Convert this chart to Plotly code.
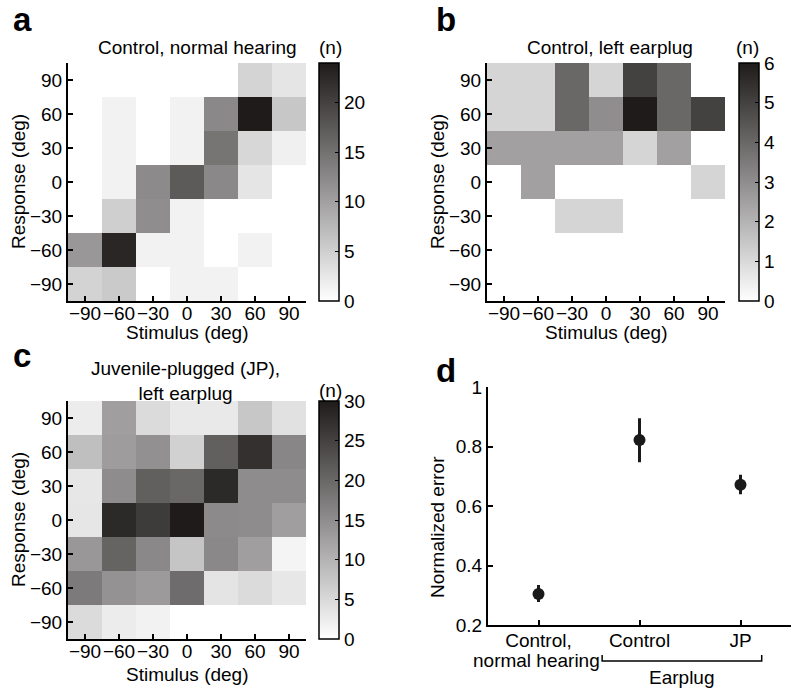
import plotly.graph_objects as go

W, H = 800, 693
FONT = "Liberation Sans, Arial, Helvetica, sans-serif"
FS = 19

# ---- data ----
stimulus = [-90, -60, -30, 0, 30, 60, 90]
response = [90, 60, 30, 0, -30, -60, -90]   # rows listed top to bottom
tick_text = ["\u221290", "\u221260", "\u221230", "0", "30", "60", "90"]

counts_a = [  # Control, normal hearing
    [0, 0, 0, 0, 0, 4.5, 2.7],
    [0, 1.4, 0, 1.4, 12.5, 24, 5.9],
    [0, 1.4, 0, 1.4, 14.6, 4.2, 1.6],
    [0, 1.4, 12.3, 17.4, 12.5, 2.7, 0],
    [0, 5.1, 12.0, 1.4, 0, 0, 0],
    [10.9, 22.8, 1.4, 1.4, 0, 1.4, 0],
    [4.6, 5.6, 0, 1.4, 1.4, 0, 0],
]
counts_b = [  # Control, left earplug
    [1.1, 1.1, 4, 1.1, 5, 4, 0],
    [1.1, 1.1, 4, 3, 6, 4, 5],
    [2.5, 2.5, 2.5, 2.5, 1.1, 2.5, 0],
    [0, 2.5, 0, 0, 0, 0, 1.1],
    [0, 0, 1.1, 1.1, 0, 0, 0],
    [0, 0, 0, 0, 0, 0, 0],
    [0, 0, 0, 0, 0, 0, 0],
]
counts_c = [  # Juvenile-plugged, left earplug
    [2.5, 12.7, 4.7, 2.9, 2.9, 7.4, 4.0],
    [8.4, 13.0, 14.6, 6.0, 21.0, 27.2, 15.9],
    [3.1, 15.1, 21.0, 20.0, 28.2, 15.1, 15.1],
    [3.3, 28.2, 25.8, 30.0, 15.4, 15.1, 12.7],
    [13.7, 20.5, 15.7, 7.6, 15.7, 12.7, 1.5],
    [17.5, 14.3, 13.3, 19.4, 3.6, 4.7, 3.1],
    [4.7, 2.5, 1.7, 0, 0, 0, 0],
]
zmax_a, zmax_b, zmax_c = 24, 6, 30
cbar_ticks_a = [0, 5, 10, 15, 20]
cbar_ticks_b = [0, 1, 2, 3, 4, 5, 6]
cbar_ticks_c = [0, 5, 10, 15, 20, 25, 30]

groups = [1, 2, 3]
group_labels = ["Control,", "Control", "JP"]
group_sublabel = "normal hearing"
norm_error = [0.305, 0.822, 0.672]
err_plus = [0.030, 0.073, 0.033]
err_minus = [0.027, 0.075, 0.032]
d_yticks = [0.2, 0.4, 0.6, 0.8, 1]
d_yticktext = ["0.2", "0.4", "0.6", "0.8", "1"]

# ---- layout helpers ----
def px_x(p):
    return p / W

def px_y(p):
    return 1 - p / H

GRAY = [[0, "#ffffff"], [1, "#1f1b1b"]]

fig = go.Figure()

def add_heat(z, zmax, ticks, xa, ya, cb_left, cb_top, cb_bottom):
    fig.add_trace(go.Heatmap(
        x=stimulus, y=response, z=z, zmin=0, zmax=zmax,
        colorscale=GRAY, xaxis=xa, yaxis=ya,
        colorbar=dict(
            x=px_x(cb_left), xanchor="left", xpad=0, ypad=0,
            y=px_y((cb_top + cb_bottom) / 2), yanchor="middle",
            len=cb_bottom - cb_top, lenmode="pixels",
            thickness=20, thicknessmode="pixels",
            outlinecolor="black", outlinewidth=1.5,
            tickvals=ticks, ticks="inside", ticklen=4, tickwidth=1,
            tickcolor="black",
            tickfont=dict(family=FONT, size=FS, color="black"),
        ),
        hoverinfo="skip",
    ))

add_heat(counts_a, zmax_a, cbar_ticks_a, "x", "y", 319, 63, 301)
add_heat(counts_b, zmax_b, cbar_ticks_b, "x2", "y2", 739, 63, 301)
add_heat(counts_c, zmax_c, cbar_ticks_c, "x3", "y3", 319, 401, 639)

fig.add_trace(go.Scatter(
    x=groups, y=norm_error, mode="markers",
    marker=dict(color="#1a1a1a", size=12),
    error_y=dict(type="data", array=err_plus, arrayminus=err_minus,
                 color="#1a1a1a", thickness=3, width=0),
    xaxis="x4", yaxis="y4", showlegend=False, hoverinfo="skip",
))

axis_common = dict(
    showline=True, linecolor="black", linewidth=2, mirror=False,
    showgrid=False, zeroline=False, ticks="inside", ticklen=5,
    tickwidth=1.5, tickcolor="black", tickangle=0, automargin=False,
    tickfont=dict(family=FONT, size=FS, color="black"),
)

def heat_axes(x0, x1, ytop, ybot):
    xa = dict(axis_common, domain=[px_x(x0), px_x(x1)], range=[-105, 105],
              tickvals=stimulus, ticktext=tick_text, ticklabelstandoff=-6)
    ya = dict(axis_common, domain=[px_y(ybot), px_y(ytop)], range=[-105, 105],
              tickvals=stimulus, ticktext=tick_text)
    return xa, ya

xa1, ya1 = heat_axes(68, 306, 63, 301)
xa2, ya2 = heat_axes(487, 725, 63, 301)
xa3, ya3 = heat_axes(68, 306, 401, 639)
ya1["anchor"] = "x"; xa1["anchor"] = "y"
ya2["anchor"] = "x2"; xa2["anchor"] = "y2"
ya3["anchor"] = "x3"; xa3["anchor"] = "y3"

xa4 = dict(axis_common, domain=[px_x(488), px_x(791)], range=[0.5, 3.5],
           tickvals=groups, ticktext=group_labels, anchor="y4",
           ticklabelstandoff=-3)
ya4 = dict(axis_common, domain=[px_y(625.3), px_y(387)], range=[0.2, 1.0],
           tickvals=d_yticks, ticktext=d_yticktext, anchor="x4")

fig.update_layout(
    width=W, height=H, margin=dict(l=0, r=0, t=0, b=0),
    paper_bgcolor="white", plot_bgcolor="white",
    font=dict(family=FONT, size=FS, color="black"),
    showlegend=False,
    xaxis=xa1, yaxis=ya1, xaxis2=xa2, yaxis2=ya2,
    xaxis3=xa3, yaxis3=ya3, xaxis4=xa4, yaxis4=ya4,
)

def ann(text, x, y, size=FS, bold=False, angle=0, xanchor="center",
        yanchor="middle"):
    fig.add_annotation(
        text=f"<b>{text}</b>" if bold else text,
        x=px_x(x), y=px_y(y), xref="paper", yref="paper",
        showarrow=False, textangle=angle, xanchor=xanchor, yanchor=yanchor,
        font=dict(family=FONT, size=size, color="black"),
    )

# panel letters
ann("a", 22, 20, size=33, bold=True)
ann("b", 446, 20, size=33, bold=True)
ann("c", 22, 355, size=33, bold=True)
ann("d", 446, 370, size=33, bold=True)

# titles
ann("Control, normal hearing", 197, 48)
ann("Control, left earplug", 610, 48)
ann("Juvenile-plugged (JP),<br>left earplug", 185, 381)
ann("(n)", 330, 48)
ann("(n)", 747, 48)
ann("(n)", 330, 391)

# axis titles
ann("Stimulus (deg)", 187, 332)
ann("Stimulus (deg)", 606, 332)
ann("Stimulus (deg)", 187, 674)
ann("Response (deg)", 18, 182, angle=-90)
ann("Response (deg)", 437, 182, angle=-90)
ann("Response (deg)", 18, 520, angle=-90)
ann("Normalized error", 437, 527, angle=-90)

# second line of first group label in panel d
fig.add_annotation(text=group_sublabel, x=groups[0] - 0.02, y=px_y(660),
                   xref="x4", yref="paper", yanchor="middle", showarrow=False,
                   font=dict(family=FONT, size=FS, color="black"))

# earplug bracket in panel d
fig.add_shape(type="path", xref="x4", yref="paper",
              path=f"M 1.63 {px_y(655)} L 1.63 {px_y(661)} L 3.21 {px_y(661)} L 3.21 {px_y(655)}",
              line=dict(color="black", width=1.5))
fig.add_annotation(text="Earplug", x=2.42, y=px_y(677), xref="x4", yref="paper",
                   yanchor="middle", showarrow=False,
                   font=dict(family=FONT, size=FS, color="black"))

fig.write_html("out.html", config={"displayModeBar": False},
               post_script="document.body.style.margin='0';document.body.style.overflow='hidden';")
